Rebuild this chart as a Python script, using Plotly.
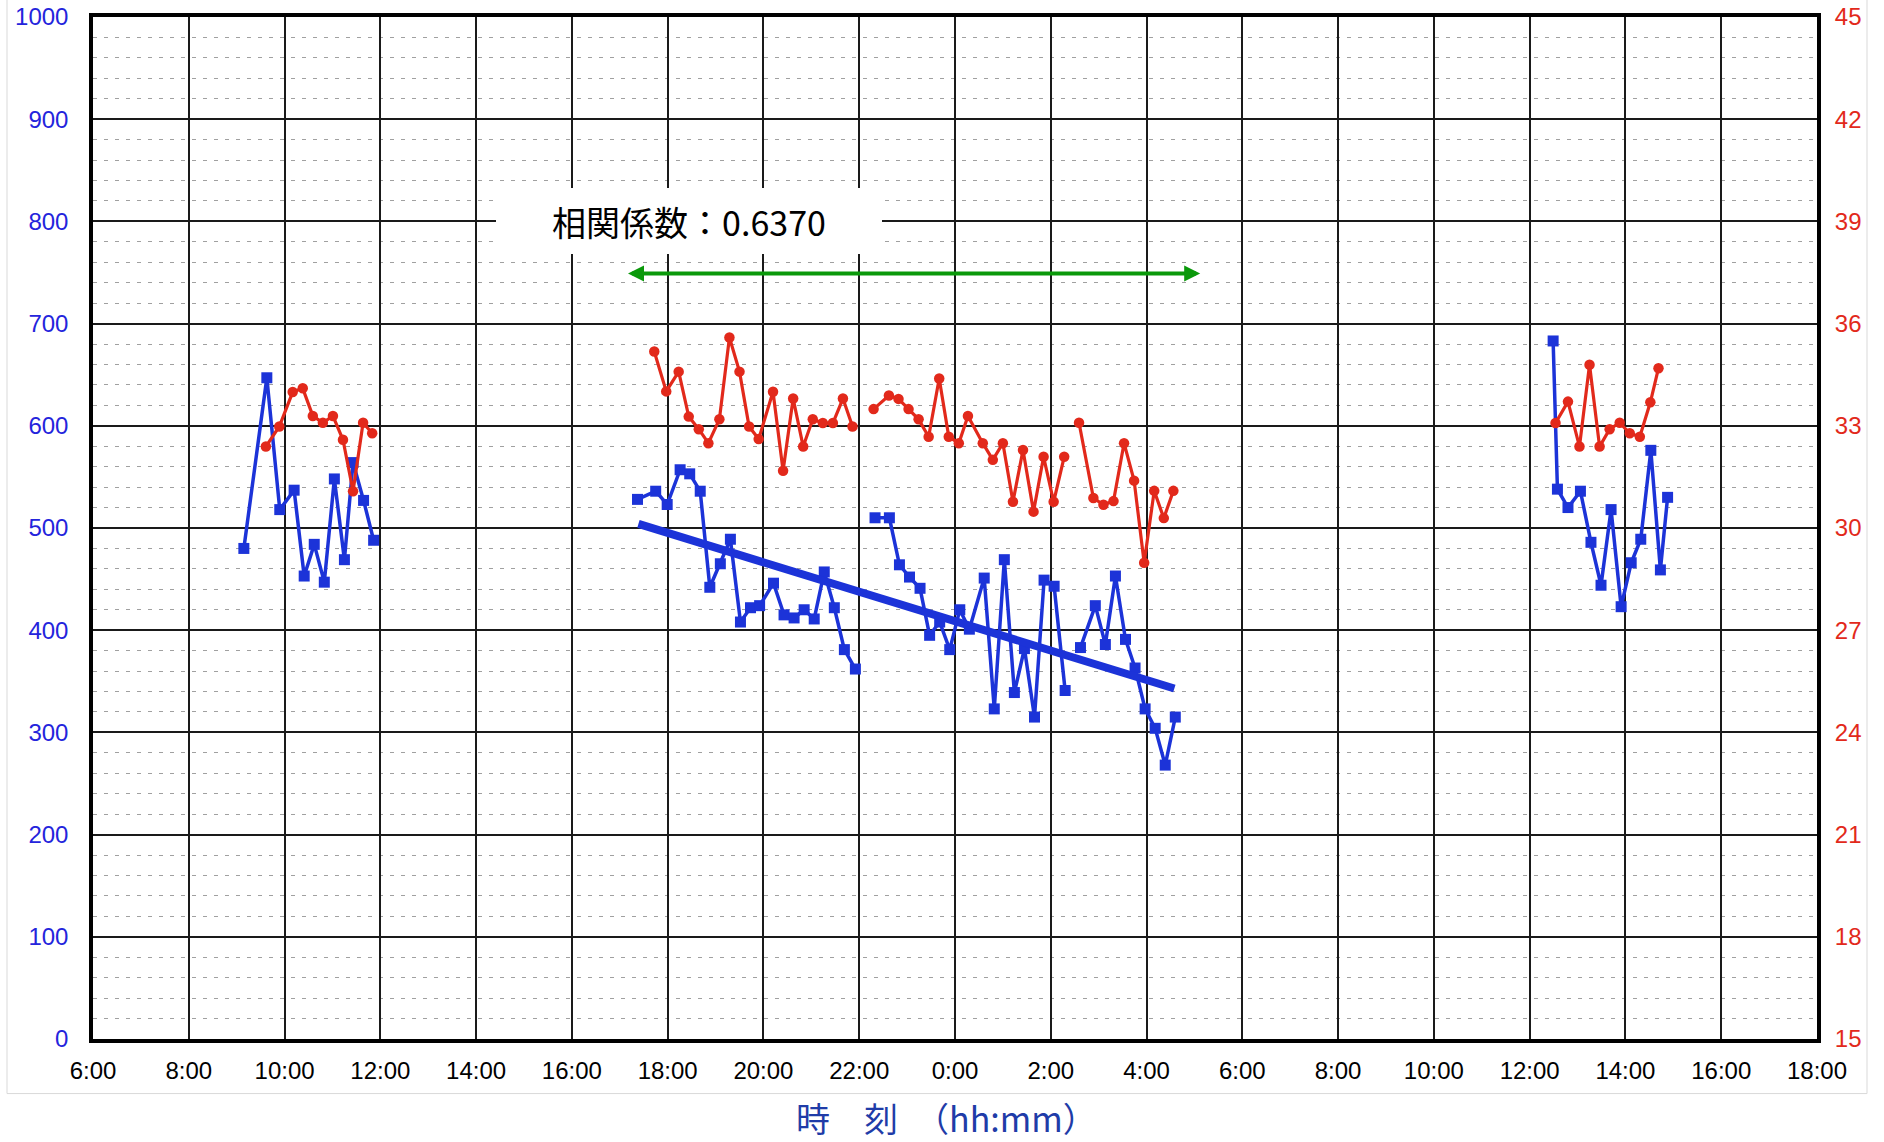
import plotly.graph_objects as go

# ---- data (clock hours; values > 24 are the next day) ----
blue_t = [9.15, 9.63, 9.90, 10.20, 10.41, 10.62, 10.83, 11.04, 11.25, 11.43, 11.65, 11.86,
          None,
          17.37, 17.75, 17.99, 18.26, 18.46, 18.68, 18.88, 19.10, 19.31, 19.52, 19.73, 19.92,
          20.21, 20.43, 20.64, 20.85, 21.06, 21.27, 21.48, 21.69, 21.92,
          None,
          22.33, 22.63, 22.84, 23.05, 23.27, 23.47, 23.68, 23.89, 24.10, 24.30, 24.61, 24.82,
          25.03, 25.24, 25.45, 25.66, 25.86, 26.07, 26.30,
          None,
          26.62, 26.93, 27.14, 27.35, 27.56, 27.76, 27.97, 28.18, 28.39, 28.60,
          None,
          36.49, 36.58, 36.80, 37.06, 37.28, 37.49, 37.70, 37.91, 38.12, 38.32, 38.53, 38.73, 38.88]
blue_v = [480, 647, 518, 537, 453, 484, 447, 548, 469, 564, 527, 488,
          None,
          528, 536, 523, 557, 553, 536, 442, 465, 489, 408, 422, 424,
          446, 415, 412, 420, 411, 457, 422, 381, 362,
          None,
          510, 510, 464, 452, 441, 395, 408, 381, 420, 401, 451, 323,
          469, 339, 382, 315, 449, 443, 341,
          None,
          383, 424, 386, 453, 391, 363, 323, 304, 268, 315,
          None,
          683, 538, 520, 536, 486, 444, 518, 423, 466, 489, 576, 459, 530]

red_t = [9.61, 9.89, 10.17, 10.38, 10.59, 10.80, 11.01, 11.22, 11.43, 11.64, 11.83,
         None,
         17.72, 17.97, 18.23, 18.44, 18.65, 18.85, 19.08, 19.29, 19.50, 19.70, 19.90,
         20.20, 20.41, 20.62, 20.83, 21.03, 21.24, 21.45, 21.66, 21.86,
         None,
         22.30, 22.62, 22.82, 23.03, 23.24, 23.45, 23.67, 23.87, 24.08, 24.27, 24.58, 24.79,
         25.00, 25.21, 25.42, 25.64, 25.85, 26.06, 26.28,
         None,
         26.59, 26.89, 27.10, 27.31, 27.53, 27.74, 27.95, 28.16, 28.36, 28.56,
         None,
         36.54, 36.80, 37.04, 37.25, 37.46, 37.67, 37.88, 38.09, 38.30, 38.52, 38.69]
red_v = [32.39, 32.98, 33.99, 34.10, 33.29, 33.09, 33.29, 32.59, 31.08, 33.09, 32.78,
         None,
         35.18, 34.01, 34.59, 33.27, 32.90, 32.49, 33.19, 35.59, 34.59, 32.98, 32.61,
         34.00, 31.68, 33.80, 32.39, 33.19, 33.08, 33.08, 33.80, 32.98,
         None,
         33.49, 33.89, 33.79, 33.49, 33.19, 32.68, 34.39, 32.68, 32.49, 33.29, 32.49, 32.00,
         32.49, 30.77, 32.29, 30.48, 32.09, 30.77, 32.09,
         None,
         33.09, 30.88, 30.68, 30.79, 32.49, 31.39, 28.98, 31.09, 30.29, 31.09,
         None,
         33.08, 33.71, 32.39, 34.79, 32.39, 32.90, 33.09, 32.78, 32.68, 33.69, 34.69]

trend_t = [17.39, 28.58]
trend_v = [504, 343]

corr_text = "相関係数：0.6370"
corr_range_t = [17.14, 29.12]
corr_range_v = 749

x_tick_vals = list(range(6, 43, 2))
x_tick_text = ["6:00", "8:00", "10:00", "12:00", "14:00", "16:00", "18:00", "20:00", "22:00",
               "0:00", "2:00", "4:00", "6:00", "8:00", "10:00", "12:00", "14:00", "16:00", "18:00"]
x_title = "時　刻　（hh:mm）"

BLUE = "#1c33d8"
RED = "#e2291b"

fig = go.Figure()
fig.add_trace(go.Scatter(x=blue_t, y=blue_v, mode="lines+markers",
                         line=dict(color=BLUE, width=3.5),
                         marker=dict(symbol="square", size=11, color=BLUE),
                         connectgaps=False, showlegend=False))
fig.add_trace(go.Scatter(x=red_t, y=red_v, mode="lines+markers", yaxis="y2",
                         line=dict(color=RED, width=3.2),
                         marker=dict(symbol="circle", size=10.5, color=RED),
                         connectgaps=False, showlegend=False))
fig.add_trace(go.Scatter(x=trend_t, y=trend_v, mode="lines",
                         line=dict(color=BLUE, width=8), showlegend=False))

fig.update_layout(
    width=1884, height=1142,
    margin=dict(l=93, r=67, t=17, b=103, autoexpand=False),
    paper_bgcolor="white", plot_bgcolor="white",
    font=dict(family="Liberation Sans, Arial, sans-serif", size=24),
    xaxis=dict(range=[6, 42], tickmode="array", tickvals=x_tick_vals, ticktext=x_tick_text,
               showgrid=True, gridcolor="#1a1a1a", gridwidth=2, automargin=False,
               showline=True, mirror=True, linecolor="black", linewidth=3.5,
               zeroline=False, ticks="outside", ticklen=7, tickcolor="rgba(0,0,0,0)",
               tickfont=dict(color="black", size=24)),
    yaxis=dict(range=[0, 1000], dtick=100, tick0=0, automargin=False,
               showgrid=True, gridcolor="#1a1a1a", gridwidth=2,
               minor=dict(dtick=20, showgrid=True, gridcolor="#a0a0a0", gridwidth=1,
                          griddash="4px,7px"),
               showline=True, mirror=True, linecolor="black", linewidth=3.5,
               zeroline=False, ticks="outside", ticklen=16, tickcolor="rgba(0,0,0,0)",
               tickfont=dict(color="#2424dc", size=24)),
    yaxis2=dict(range=[15, 45], dtick=3, tick0=15, overlaying="y", side="right",
                showgrid=False, zeroline=False, showline=False, automargin=False,
                ticks="outside", ticklen=12, tickcolor="rgba(0,0,0,0)",
                tickfont=dict(color=RED, size=24)),
)

# correlation label box
fig.add_annotation(x=18.45, y=800, xref="x", yref="y", text=corr_text,
                   showarrow=False, bgcolor="white", width=386, height=66,
                   borderpad=0, borderwidth=0,
                   font=dict(family="Noto Sans CJK JP", size=34, color="black"))
# green double-headed arrow for the range
fig.add_annotation(x=corr_range_t[1], y=corr_range_v, ax=corr_range_t[0], ay=corr_range_v,
                   xref="x", yref="y", axref="x", ayref="y", text="",
                   showarrow=True, arrowhead=2, startarrowhead=2, arrowside="end+start",
                   arrowsize=0.8, startarrowsize=0.8, arrowwidth=4, arrowcolor="#0a990a")
# x-axis title
fig.add_annotation(x=(946 - 93) / 1724, y=-0.0765, xref="paper", yref="paper",
                   text=x_title, showarrow=False, xanchor="center", yanchor="middle",
                   font=dict(family="Noto Sans CJK JP", size=34, color="#1f3ca8"))

# faint outer frame of the original image
fig.add_shape(type="rect", xref="paper", yref="paper",
              x0=(7 - 93) / 1724, x1=(1867 - 93) / 1724, y0=-0.0534, y1=1.03,
              line=dict(color="#d9d9d9", width=1), layer="below")

fig.write_html("out.html", config={"displayModeBar": False},
               post_script="document.body.style.margin='0';document.body.style.overflow='hidden';")
